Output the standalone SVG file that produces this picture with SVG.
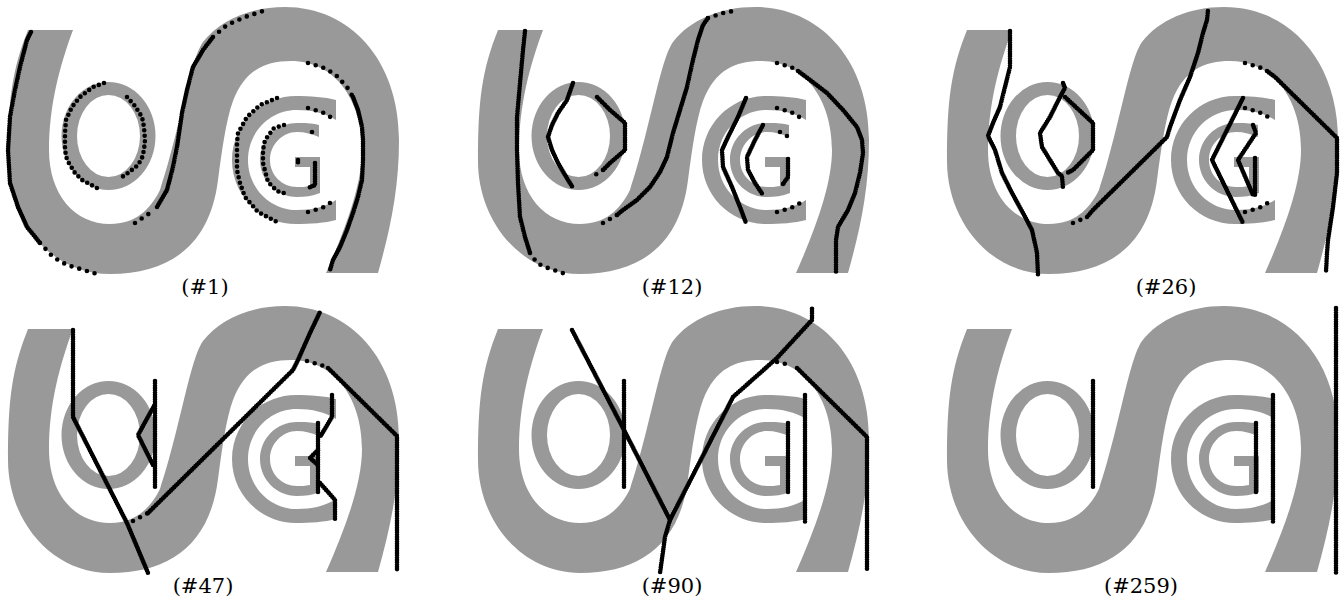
<svg xmlns="http://www.w3.org/2000/svg" xmlns:xlink="http://www.w3.org/1999/xlink" width="1341" height="600" viewBox="0 0 1341 600">
<style>
.g{fill:#999999;stroke:none}
.d{fill:none;stroke:#000;stroke-width:4.6;stroke-linecap:round;stroke-linejoin:round;stroke-dasharray:0 2.3}
.m{fill:none;stroke:#000;stroke-width:4.6;stroke-linecap:round;stroke-linejoin:round;stroke-dasharray:0 5.5}
.s{fill:none;stroke:#000;stroke-width:4.6;stroke-linecap:round;stroke-linejoin:round;stroke-dasharray:0 8}
.lbl{font-family:"DejaVu Serif","Liberation Serif",serif;font-size:21px;fill:#000;text-anchor:middle}
</style>
<defs>
<g id="shape" class="g">
<path d="M28,30 L73,30 C60,65 49,105 49,150 C49,195 75,224 110,224 C135,224 150,210 160,190 C180,130 190,60 203,42 C220,20 250,7 285,7 C350,7 399,60 399,140 C399,190 390,230 378,273 L326,273 C345,230 362,185 362,150 C362,100 335,61 291,61 C265,61 245,70 233,101 C226,120 222,150 218,180 C210,245 170,274 110,274 C50,274 8,220 8,161 C8,100 12,70 28,30 Z"/>
<path fill-rule="evenodd" d="M61.5,136 a47,54 0 1,0 94,0 a47,54 0 1,0 -94,0 Z M77,136 a31.5,41 0 1,0 63,0 a31.5,41 0 1,0 -63,0 Z"/>
<path d="M336,100 C325,97 310,96 296,96 C260,96 232,125 232,160 C232,195 260,224 296,224 C310,224 325,223 336,220 L336,200 C325,207 312,210 297,210 C270,210 248,188 248,160 C248,132 270,110 297,110 C312,110 325,113 336,120 Z"/>
<path d="M319,125 C310,123 305,123 297,123 C276,123 260,140 260,160 C260,180 276,197 297,197 C305,197 312,196 320,193 L320,157 L295,157 L295,167 L310,167 L310,186 C305,187 302,187 297,187 C282,187 270,175 270,160 C270,145 282,132 297,132 C305,132 312,134 319,137 Z"/>
</g>
</defs>

<g id="panel1">
<use xlink:href="#shape" href="#shape"/>
<path class="d" d="M31,32 L27,40 L20,67 L15,90 L10,117 L8,150 L10,183 L18,207 L27,227 L40,243"/>
<path class="s" d="M40,243 L53,257 L67,265 L87,271 L100,275"/>
<path class="s" d="M135,223 L153,211"/>
<path class="d" d="M157,207 L167,190 L173,167 L177,147 L182,113 L187,90 L193,67 L203,50 L213,37"/>
<path class="s" d="M213,37 L227,25 L245,17 L263,11"/>
<path class="s" d="M308,63 L322,67 L335,74 L347,87 L353,97"/>
<path class="d" d="M353,97 L358,110 L362,127 L363,140 L363,160 L362,180 L358,197 L353,213 L347,230 L340,247 L333,260 L330,270"/>
<path class="m" d="M104,83 L93,87 L80,97 L72,107 L66,120 L65,133 L65,150 L67,160 L75,173 L82,180 L97,188"/>
<path class="m" d="M127,97 L135,106 L142,117 L144,127 L145,140 L144,150 L142,158 L138,165 L128,173 L122,177"/>
<path class="m" d="M277,98 L260,105 L247,117 L238,133 L237,143 L237,170 L240,183 L245,197 L258,212 L277,222"/>
<path class="s" d="M308,108 L322,112 L332,118"/>
<path class="s" d="M308,212 L322,208 L333,201"/>
<path class="m" d="M284,125 L274,128 L265,140 L263,150 L263,163 L268,182 L277,191 L287,194"/>
<path class="s" d="M312,132 L318,136"/>
<path class="d" d="M298,160 L298,164"/>
<path class="d" d="M315,163 L315,185 L308,188"/>
<text class="lbl" x="205" y="294">(#1)</text>
</g>

<g id="panel2">
<use xlink:href="#shape" href="#shape" transform="translate(470,0)"/>
<path class="d" d="M525,31 L523,50 L520,83 L517,117 L517,150 L518,183 L520,217 L525,237 L530,253"/>
<path class="s" d="M530,253 L537,263 L545,267 L557,271 L568,275"/>
<path class="s" d="M603,223 L617,215"/>
<path class="d" d="M617,215 L623,210 L637,200 L650,187 L660,172 L667,157 L673,133 L680,110 L687,87 L693,60 L698,40 L703,25 L708,18"/>
<path class="s" d="M708,18 L723,13 L733,11"/>
<path class="s" d="M777,63 L791,67 L798,71"/>
<path class="d" d="M798,71 L810,80 L827,93 L843,110 L857,127 L862,140 L863,153 L860,173 L855,193 L848,210 L838,227 L836,240 L836,272"/>
<path class="d" d="M573,83 L567,100 L558,113 L552,125 L548,137 L552,150 L558,163 L565,175 L573,188"/>
<path class="d" d="M597,97 L610,110 L625,123 L625,150 L610,163 L603,170"/>
<path class="s" d="M603,170 L597,174 L590,177"/>
<path class="d" d="M746,98 L738,117 L728,137 L722,150 L723,167 L732,187 L740,207 L746,223"/>
<path class="s" d="M777,108 L791,112 L801,118"/>
<path class="s" d="M777,212 L791,208 L802,202"/>
<path class="d" d="M763,125 L755,140 L747,157 L748,170 L755,183 L763,195"/>
<path class="s" d="M780,132 L787,136"/>
<path class="d" d="M788,159 L788,177 L783,184"/>
<path class="s" d="M783,184 L777,188"/>
<text class="lbl" x="672" y="294">(#12)</text>
</g>

<g id="panel3">
<use xlink:href="#shape" href="#shape" transform="translate(939,0)"/>
<path class="d" d="M1010,31 L1010,67 L1005,87 L1000,107 L993,123 L988,136 L995,150 L1002,173 L1012,193 L1023,213 L1032,230 L1037,253 L1038,275"/>
<path class="s" d="M1073,223 L1087,217"/>
<path class="d" d="M1087,217 L1093,210 L1167,137 L1170,127 L1180,100 L1190,77 L1198,53 L1203,33 L1207,20 L1208,10"/>
<path class="s" d="M1245,63 L1259,67 L1267,71"/>
<path class="d" d="M1267,71 L1275,77 L1337,138 L1337,173 L1333,207 L1328,240 L1327,253 L1326,272"/>
<path class="d" d="M1063,83 L1065,88 L1060,97 L1050,117 L1040,133 L1042,147 L1050,160 L1058,173 L1062,176 L1063,188"/>
<path class="d" d="M1065,97 L1093,123 L1093,150 L1073,170 L1067,173"/>
<path class="d" d="M1243,98 L1212,160 L1243,223"/>
<path class="s" d="M1245,108 L1259,112 L1270,118"/>
<path class="s" d="M1245,212 L1259,208 L1271,201"/>
<path class="d" d="M1253,125 L1256,133 L1238,160 L1253,195"/>
<path class="d" d="M1255,158 L1255,195"/>
<text class="lbl" x="1166" y="294">(#26)</text>
</g>

<g id="panel4">
<use xlink:href="#shape" href="#shape" transform="translate(0,299)"/>
<path class="d" d="M73,330 L73,417 L127,523 L148,573"/>
<path class="s" d="M133,521 L148,513"/>
<path class="d" d="M148,513 L293,370 L298,360 L310,333 L320,312"/>
<path class="s" d="M307,361 L321,365 L328,368"/>
<path class="d" d="M328,368 L397,436 L397,570"/>
<path class="d" d="M155,381 L155,488"/>
<path class="d" d="M154,406 L138,435 L154,467"/>
<path class="d" d="M332,395 L332,417 L320,437"/>
<path class="d" d="M318,423 L318,493"/>
<path class="d" d="M318,450 L310,458 L318,465"/>
<path class="d" d="M320,483 L335,500 L335,520"/>
<text class="lbl" x="203" y="593">(#47)</text>
</g>

<g id="panel5">
<use xlink:href="#shape" href="#shape" transform="translate(470,299)"/>
<path class="d" d="M572,330 L623,428 L670,520 L665,537 L660,573"/>
<path class="d" d="M670,520 L733,397 L777,358 L812,320 L812,308"/>
<path class="s" d="M777,362 L790,365"/>
<path class="d" d="M797,368 L867,437 L867,570"/>
<path class="d" d="M624,381 L624,488"/>
<path class="d" d="M788,423 L788,493"/>
<path class="d" d="M805,395 L805,522"/>
<text class="lbl" x="672" y="593">(#90)</text>
</g>

<g id="panel6">
<use xlink:href="#shape" href="#shape" transform="translate(939,299)"/>
<path class="d" d="M1093,381 L1093,487"/>
<path class="d" d="M1256,423 L1256,493"/>
<path class="d" d="M1273,395 L1273,522"/>
<path class="d" d="M1336,308 L1336,573"/>
<text class="lbl" x="1141" y="593">(#259)</text>
</g>
</svg>
